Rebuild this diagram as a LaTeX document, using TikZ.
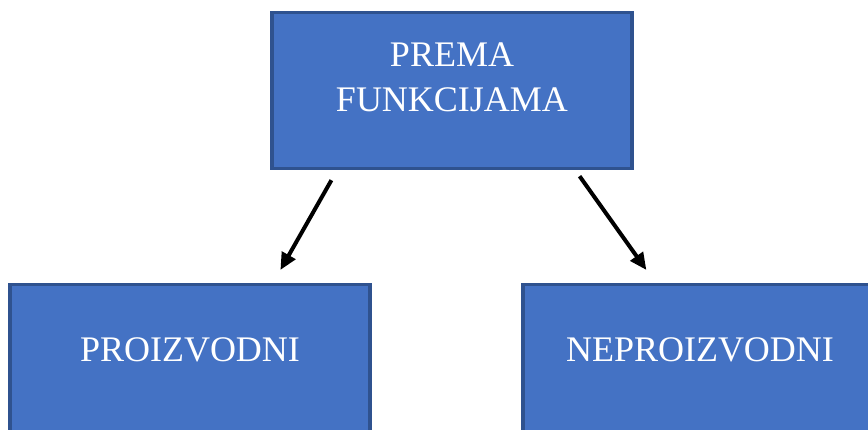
\documentclass[tikz,border=0pt]{standalone}
\usepackage{fontspec}
\setmainfont{Liberation Serif}
\usepackage{xcolor}
\usetikzlibrary{calc, positioning, arrows.meta}
\definecolor{boxfill}{HTML}{4472C4}
\definecolor{boxline}{HTML}{2F528F}
\tikzset{
  box/.style={draw=boxline, fill=boxfill, line width=3.2pt, text=white, anchor=north,
    font=\fontsize{36}{45}\selectfont, inner xsep=0pt, inner ysep=0pt, align=center},
  arr/.style={-{Triangle[length=17pt,width=15pt]}, line width=4pt}
}

\begin{document}
\begin{tikzpicture}[x=1pt, y=-1pt]
\useasboundingbox (0,0) rectangle (868,430);
\clip (0,0) rectangle (868,430);
% nodes %
\node[box, minimum width=360pt, text height=99pt, text depth=57pt] (fun) at (452,11) {PREMA\\FUNKCIJAMA};
\node[box, minimum width=360pt, text height=77pt, text depth=110pt] (pro) at (190,283) {PROIZVODNI};
\node[box, minimum width=354pt, text height=77pt, text depth=110pt] (nepro) at (700,283) {NEPROIZVODNI};
% arrow ends %
\coordinate (l1) at ([xshift=61pt, yshift=-10pt]fun.south west);
\coordinate (l2) at ([xshift=272pt, yshift=13pt]pro.north west);
\coordinate (r1) at ([xshift=-54pt, yshift=-6pt]fun.south east);
\coordinate (r2) at ([xshift=125pt, yshift=13pt]nepro.north west);
% edges %
\draw[arr] (l1) -- (l2);
\draw[arr] (r1) -- (r2);
\end{tikzpicture}
\end{document}
